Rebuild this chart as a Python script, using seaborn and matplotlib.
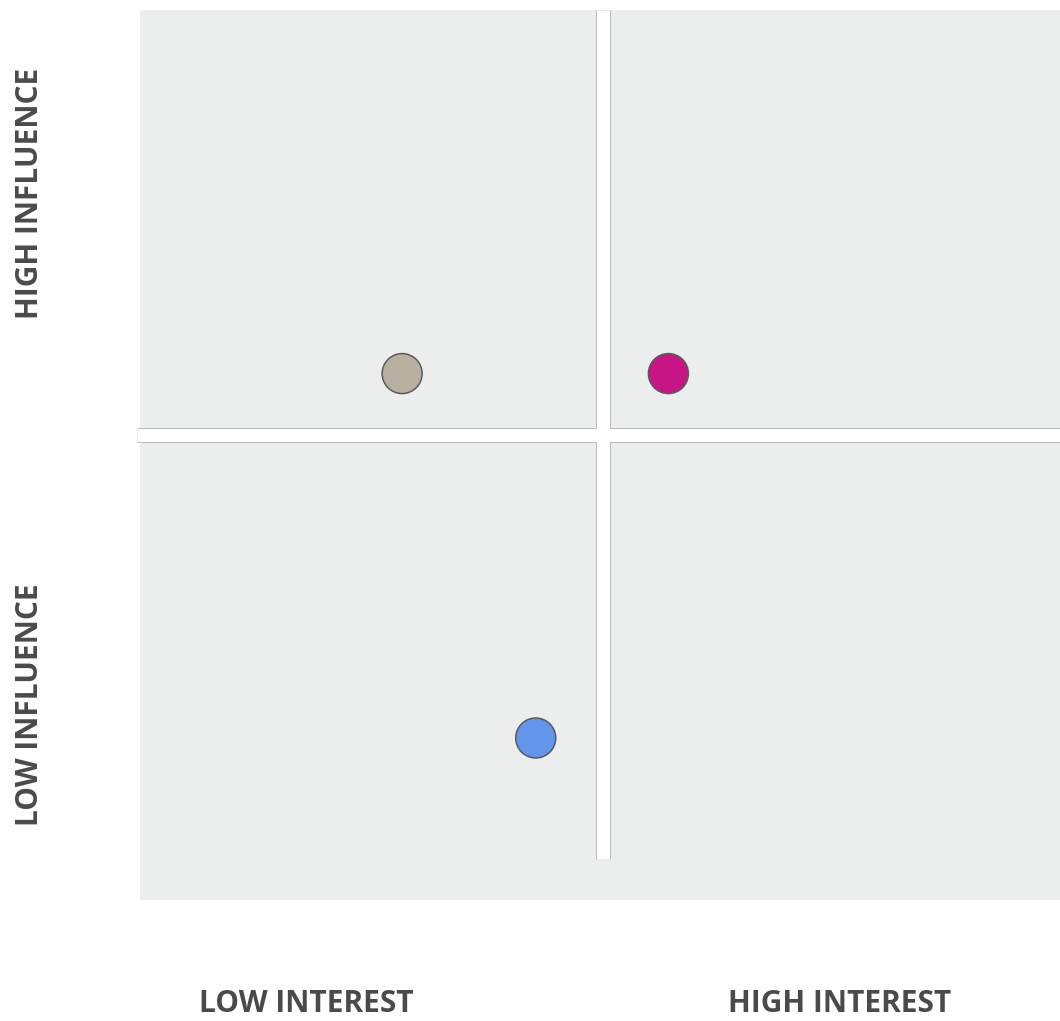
import matplotlib
matplotlib.use("Agg")
import matplotlib.pyplot as plt
import seaborn as sns
import pandas as pd

# ---- data ----
stakeholders = ["Stakeholder A", "Stakeholder B", "Stakeholder C"]
interest = [2.81, 5.72, 4.27]
influence = [5.72, 5.72, 1.43]
colors = ["#B8B0A1", "#C71585", "#6495ED"]
x_labels = ["LOW INTEREST", "HIGH INTEREST"]
y_labels = ["HIGH INFLUENCE", "LOW INFLUENCE"]
mid_x = 5.0
mid_y = 5.0

df = pd.DataFrame({"stakeholder": stakeholders, "interest": interest, "influence": influence})

sns.set_theme(style="white")
plt.rcParams["font.family"] = ["Open Sans", "DejaVu Sans"]

W, H = 1060, 1021
fig = plt.figure(figsize=(W / 100, H / 100), dpi=100)
ax = fig.add_axes([140 / W, (H - 900) / H, 920 / W, 890 / H])
ax.set_facecolor("#ECEDED")
ax.set_xlim(-0.055, 10)
ax.set_ylim(-0.477, 10)
for s in ax.spines.values():
    s.set_visible(False)
ax.set_xticks([])
ax.set_yticks([])

px = 72 / 100  # points per pixel
edge = "#BBBBBB"
ymin_frac = (0 - ax.get_ylim()[0]) / (ax.get_ylim()[1] - ax.get_ylim()[0])
# gray edges
ax.axvline(mid_x, ymin=ymin_frac, ymax=1, color=edge, lw=15 * px, solid_capstyle="butt", zorder=1)
ax.axhline(mid_y, xmin=-3 / 920, xmax=1, color=edge, lw=15 * px, solid_capstyle="butt", zorder=1, clip_on=False)
# white gaps
ax.axvline(mid_x, ymin=ymin_frac, ymax=1, color="white", lw=13 * px, solid_capstyle="butt", zorder=2)
ax.axhline(mid_y, xmin=-3 / 920, xmax=1, color="white", lw=13 * px, solid_capstyle="butt", zorder=2, clip_on=False)

sns.scatterplot(data=df, x="interest", y="influence", hue="stakeholder",
                palette=colors, s=(40 * px) ** 2, edgecolor="#5a5a5a", linewidth=1.1,
                legend=False, ax=ax, zorder=3)
ax.set_xlabel("")
ax.set_ylabel("")

tc = "#4a4a4a"
fs = 21.5
fig.text(306 / W, 1 - 1004 / H, x_labels[0], ha="center", va="center", fontsize=fs, fontweight="bold", color=tc)
fig.text(840 / W, 1 - 1004 / H, x_labels[1], ha="center", va="center", fontsize=fs, fontweight="bold", color=tc)
fig.text(30 / W, 1 - 193 / H, y_labels[0], ha="center", va="center", rotation=90, fontsize=fs, fontweight="bold", color=tc)
fig.text(30 / W, 1 - 705 / H, y_labels[1], ha="center", va="center", rotation=90, fontsize=fs, fontweight="bold", color=tc)

fig.savefig("out.png", dpi=100, facecolor="white")
